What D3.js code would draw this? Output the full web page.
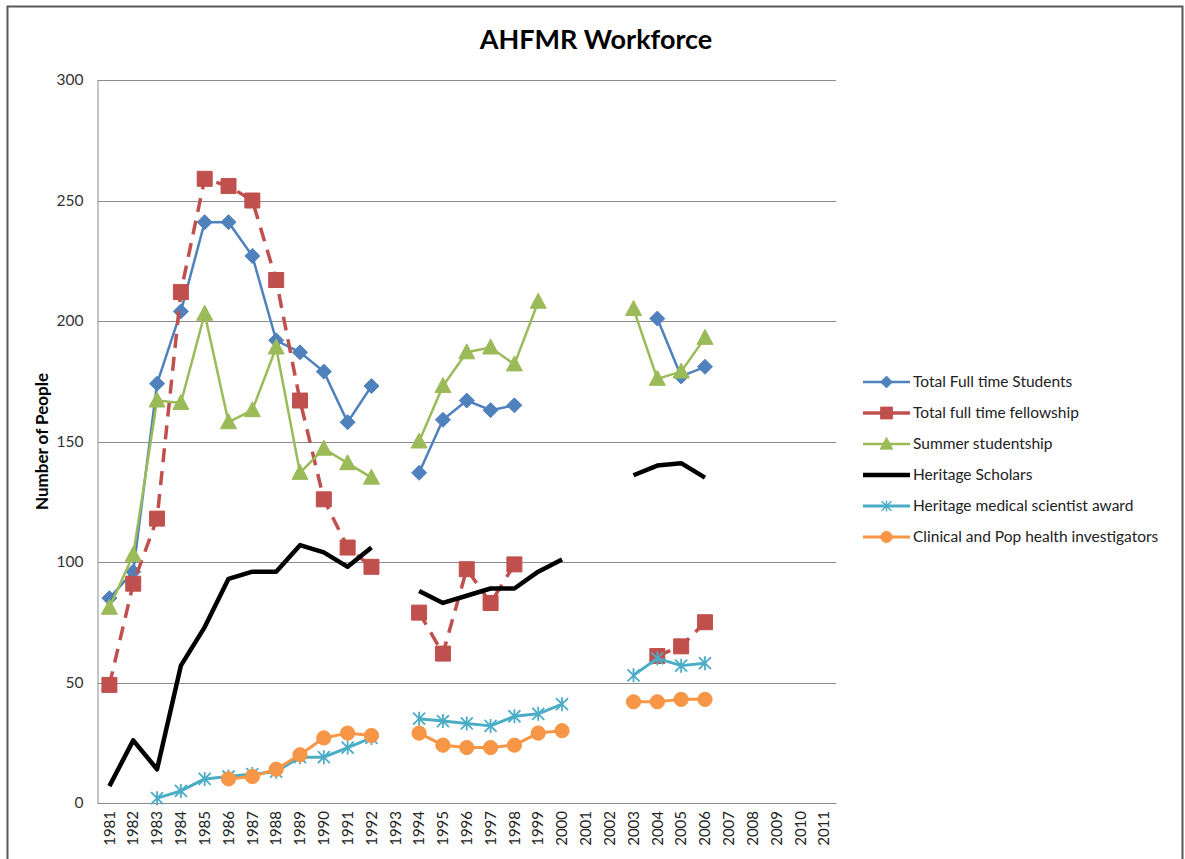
<!DOCTYPE html>
<html>
<head>
<meta charset="UTF-8">
<script src="https://cdn.jsdelivr.net/npm/d3@7"></script>
<style>
  body { margin: 0; background: #fff; }
  svg text { font-family: Lato, "Open Sans", sans-serif; }
</style>
</head>
<body>
<svg width="1185" height="859"></svg>
<script>
// years on the category axis
const years = d3.range(1981, 2012).map(String);

// series values (null = gap)
const students = [85, 96, 174, 204, 241, 241, 227, 192, 187, 179, 158, 173, null, 137, 159, 167, 163, 165, null, null, null, null, null, 201, 177, 181, null, null, null, null, null];
const fellowship = [49, 91, 118, 212, 259, 256, 250, 217, 167, 126, 106, 98, null, 79, 62, 97, 83, 99, null, null, null, null, null, 61, 65, 75, null, null, null, null, null];
const summer = [81, 103, 167, 166, 203, 158, 163, 189, 137, 147, 141, 135, null, 150, 173, 187, 189, 182, 208, null, null, null, 205, 176, 179, 193, null, null, null, null, null];
const scholars = [7, 26, 14, 57, 73, 93, 96, 96, 107, 104, 98, 106, null, 88, 83, 86, 89, 89, 96, 101, null, null, 136, 140, 141, 135, null, null, null, null, null];
const scientist = [null, null, 2, 5, 10, 11, 12, 13, 19, 19, 23, 27, null, 35, 34, 33, 32, 36, 37, 41, null, null, 53, 60, 57, 58, null, null, null, null, null];
const clinical = [null, null, null, null, null, 10, 11, 14, 20, 27, 29, 28, null, 29, 24, 23, 23, 24, 29, 30, null, null, 42, 42, 43, 43, null, null, null, null, null];

const yTicks = [0, 50, 100, 150, 200, 250, 300];

const series = [
  { name: "Total Full time Students", values: students, color: "#4F81BD", width: 2.5, dash: null, marker: "diamond" },
  { name: "Total full time fellowship", values: fellowship, color: "#C0504D", width: 3.5, dash: "14,9", marker: "square" },
  { name: "Summer studentship", values: summer, color: "#9BBB59", width: 2.5, dash: null, marker: "triangle" },
  { name: "Heritage Scholars", values: scholars, color: "#000000", width: 4.5, dash: null, marker: null },
  { name: "Heritage medical scientist award", values: scientist, color: "#4BACC6", width: 3, dash: null, marker: "star" },
  { name: "Clinical and Pop health investigators", values: clinical, color: "#F79646", width: 3, dash: null, marker: "circle" }
];

const svg = d3.select("svg");
const plot = { left: 97.5, right: 836, top: 80, bottom: 803 };

// outer chart frame (bottom edge is outside the picture)
svg.append("path")
  .attr("d", "M7.5,860 L7.5,6.5 L1182.5,6.5 L1182.5,860")
  .attr("fill", "none")
  .attr("stroke", "#595959")
  .attr("stroke-width", 2);

const x = d3.scaleBand().domain(years).range([plot.left, plot.right]);
const y = d3.scaleLinear().domain([0, 300]).range([plot.bottom, plot.top]);

// gridlines
svg.append("g")
  .selectAll("line")
  .data(yTicks)
  .enter()
  .append("line")
  .attr("x1", plot.left)
  .attr("x2", plot.right)
  .attr("y1", d => Math.round(y(d)) + 0.5)
  .attr("y2", d => Math.round(y(d)) + 0.5)
  .attr("stroke", "#8c8c8c")
  .attr("stroke-width", 1);

// y axis
let yAxis = svg.append("g")
  .attr("transform", "translate(" + plot.left + ",0)")
  .call(d3.axisLeft(y).tickValues(yTicks).tickSize(0).tickPadding(14));
yAxis.select(".domain").attr("stroke", "#8c8c8c");
yAxis.selectAll("text").style("font-size", "15.5px").attr("fill", "#333");

// x axis
let xAxis = svg.append("g")
  .attr("transform", "translate(0," + plot.bottom + ")")
  .call(d3.axisBottom(x).tickSize(0));
xAxis.select(".domain").attr("stroke", "#8c8c8c");
xAxis.selectAll("text")
  .style("font-size", "15px")
  .attr("fill", "#222")
  .attr("transform", "rotate(-90)")
  .attr("text-anchor", "end")
  .attr("x", -8)
  .attr("y", 0)
  .attr("dy", "0.35em");

// title and axis label
svg.append("text")
  .attr("x", 596)
  .attr("y", 49)
  .attr("text-anchor", "middle")
  .style("font-size", "27px")
  .style("font-weight", "bold")
  .text("AHFMR Workforce");

svg.append("text")
  .attr("transform", "translate(48," + ((plot.top + plot.bottom) / 2) + ") rotate(-90)")
  .attr("text-anchor", "middle")
  .style("font-size", "17px")
  .style("font-weight", "bold")
  .text("Number of People");

function markerPath(type) {
  if (type == "diamond") return "M0,-7.5 L7.5,0 L0,7.5 L-7.5,0 Z";
  if (type == "square") return "M-7.5,-7.5 L7.5,-7.5 L7.5,7.5 L-7.5,7.5 Z";
  if (type == "triangle") return "M0,-8.5 L8,6.5 L-8,6.5 Z";
  if (type == "circle") return d3.symbol().type(d3.symbolCircle).size(160)();
  if (type == "star") return "M-6,-6 L6,6 M-6,6 L6,-6 M0,-7 L0,7";
  return null;
}

function drawMarker(g, type, color) {
  g.append("path")
    .attr("d", markerPath(type))
    .attr("fill", type == "star" ? "none" : color)
    .attr("stroke", color)
    .attr("stroke-width", type == "star" ? 1.8 : 1);
}

const line = d3.line()
  .defined(d => d != null)
  .x((d, i) => x(years[i]) + x.bandwidth() / 2)
  .y(d => y(d));

series.forEach(s => {
  let g = svg.append("g");
  g.append("path")
    .datum(s.values)
    .attr("d", line)
    .attr("fill", "none")
    .attr("stroke", s.color)
    .attr("stroke-width", s.width)
    .attr("stroke-dasharray", s.dash)
    .attr("stroke-linejoin", "round");

  if (s.marker) {
    s.values.forEach((v, i) => {
      if (v == null) return;
      let m = g.append("g")
        .attr("transform", "translate(" + (x(years[i]) + x.bandwidth() / 2) + "," + y(v) + ")");
      drawMarker(m, s.marker, s.color);
    });
  }
});

// legend
let legend = svg.append("g").attr("transform", "translate(863,382)");
series.forEach((s, i) => {
  let row = legend.append("g").attr("transform", "translate(0," + (i * 31) + ")");
  row.append("line")
    .attr("x1", 0).attr("x2", 47)
    .attr("y1", 0).attr("y2", 0)
    .attr("stroke", s.color)
    .attr("stroke-width", s.width);
  if (s.marker) {
    let m = row.append("g").attr("transform", "translate(23.5,0) scale(0.8)");
    drawMarker(m, s.marker, s.color);
  }
  row.append("text")
    .attr("x", 50)
    .attr("y", 0)
    .attr("dy", "0.35em")
    .style("font-size", "15.5px")
    .attr("fill", "#222")
    .text(s.name);
});
</script>
</body>
</html>
